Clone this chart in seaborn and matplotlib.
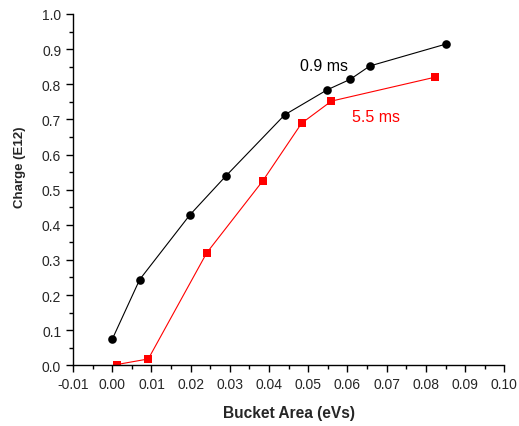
import pandas as pd
import matplotlib
matplotlib.use('Agg')
import matplotlib.pyplot as plt
from matplotlib.ticker import MultipleLocator
import seaborn as sns

# Data
area_09 = [0.0000, 0.0070, 0.0198, 0.0290, 0.0440, 0.0548, 0.0607, 0.0657, 0.0850]
charge_09 = [0.074, 0.244, 0.428, 0.539, 0.713, 0.784, 0.814, 0.852, 0.914]
area_55 = [0.0011, 0.0092, 0.0241, 0.0384, 0.0483, 0.0559, 0.0823]
charge_55 = [0.002, 0.018, 0.320, 0.525, 0.689, 0.752, 0.820]

df09 = pd.DataFrame({'area': area_09, 'charge': charge_09})
df55 = pd.DataFrame({'area': area_55, 'charge': charge_55})

sns.set_style('ticks')
plt.rcParams['font.family'] = ['Liberation Sans', 'DejaVu Sans']

fig = plt.figure(figsize=(5.19, 4.27), dpi=100)
ax = fig.add_axes([0.1407, 0.1422, 0.831, 0.8227])

sns.lineplot(data=df09, x='area', y='charge', ax=ax, color='black', marker='o',
             markersize=6.2, markeredgewidth=0, linewidth=0.8, sort=False)
sns.lineplot(data=df55, x='area', y='charge', ax=ax, color='red', marker='s',
             markersize=5.2, markeredgewidth=0, linewidth=0.8, sort=False)

ax.text(0.0479, 0.852, '0.9 ms', color='black', fontsize=11.5, va='center', ha='left')
ax.text(0.0611, 0.707, '5.5 ms', color='red', fontsize=11.5, va='center', ha='left')

ax.set_xlim(-0.01, 0.10)
ax.set_ylim(0.0, 1.0)
ax.xaxis.set_major_locator(MultipleLocator(0.01))
ax.xaxis.set_minor_locator(MultipleLocator(0.005))
ax.yaxis.set_major_locator(MultipleLocator(0.1))
ax.yaxis.set_minor_locator(MultipleLocator(0.05))
ax.xaxis.set_major_formatter(plt.FuncFormatter(lambda v, p: f'{v:.2f}'))
ax.yaxis.set_major_formatter(plt.FuncFormatter(lambda v, p: f'{v:.1f}'))

ax.tick_params(which='major', direction='out', length=5, width=1, labelsize=10, color='black')
ax.tick_params(which='minor', direction='out', length=3, width=1, color='black')

ax.spines['top'].set_visible(False)
ax.spines['right'].set_visible(False)
for s in ('left', 'bottom'):
    ax.spines[s].set_linewidth(1)
    ax.spines[s].set_color('black')

ax.set_xlabel('Bucket Area (eVs)', fontsize=11.2, fontweight='bold', labelpad=10)
ax.set_ylabel('Charge (E12)', fontsize=9.5, fontweight='bold')
ax.yaxis.set_label_coords(-0.108, 0.566)

fig.savefig('out.png', dpi=100)
